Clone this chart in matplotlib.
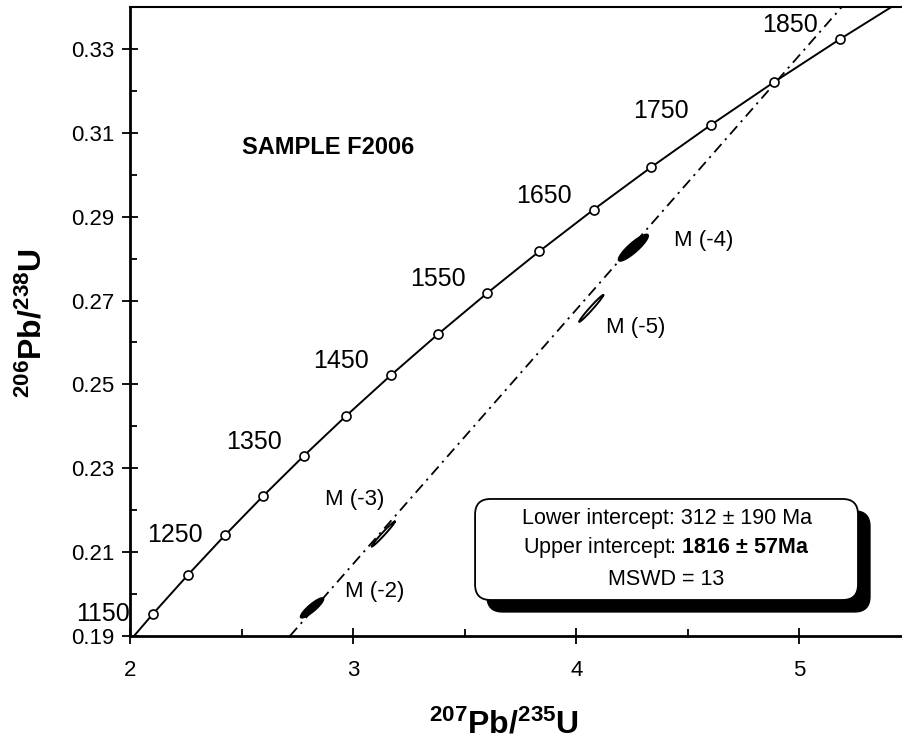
import numpy as np
import matplotlib.pyplot as plt
from matplotlib.patches import FancyBboxPatch

plt.rcParams['font.family'] = ['Liberation Sans', 'DejaVu Sans']
plt.rcParams['mathtext.fontset'] = 'custom'
plt.rcParams['mathtext.rm'] = 'Liberation Sans'
plt.rcParams['mathtext.bf'] = 'Liberation Sans:bold'

# concordia ratios, every 50 Ma (1100 and 1900 only extend the curve)
ages = [1100, 1150, 1200, 1250, 1300, 1350, 1400, 1450, 1500,
        1550, 1600, 1650, 1700, 1750, 1800, 1850, 1900]
pb207_u235 = [1.9545, 2.1036, 2.2603, 2.4249, 2.5977, 2.7793, 2.9701, 3.1705, 3.3810,
              3.6021, 3.8344, 4.0784, 4.3348, 4.6040, 4.8869, 5.1841, 5.4962]
pb206_u238 = [0.18606, 0.19530, 0.20460, 0.21398, 0.22343, 0.23296, 0.24256, 0.25224, 0.26199,
              0.27181, 0.28172, 0.29170, 0.30175, 0.31189, 0.32210, 0.33240, 0.34277]
label_ages = [1150, 1250, 1350, 1450, 1550, 1650, 1750, 1850]

# discordia (dash-dot)
disc_x = [2.717, 5.19]
disc_y = [0.19, 0.34]

# zircon analyses: centre, half-extent, correlation
spot_names = ['M (-2)', 'M (-3)', 'M (-5)', 'M (-4)']
spot_x = [2.816, 3.135, 4.067, 4.256]
spot_sx = [0.052, 0.052, 0.054, 0.067]
spot_y = [0.1967, 0.2143, 0.2681, 0.2826]
spot_sy = [0.0024, 0.0030, 0.0032, 0.0032]
spot_rho = [0.88, 0.985, 0.985, 0.88]
spot_filled = [True, False, False, True]

box_lines = ['Lower intercept: 312 ± 190 Ma',
             r'Upper intercept: $\mathbf{1816}$ $\mathbf{\pm}$ $\mathbf{57Ma}$',
             'MSWD = 13']

fig = plt.figure(figsize=(9.02, 7.42), dpi=100)
ax = fig.add_axes([0.1441, 0.1429, 0.8559, 0.8477])

# concordia curve + 50 Ma markers
ax.plot(pb207_u235, pb206_u238, color='black', lw=1.4, zorder=3)
ax.plot(pb207_u235[1:-1], pb206_u238[1:-1], 'o', ms=6.5, mfc='white',
        mec='black', mew=1.2, zorder=4)

for a in label_ages:
    i = ages.index(a)
    dy = 0 if a < 1300 else 10
    ax.annotate(str(a), (pb207_u235[i], pb206_u238[i]), xytext=(-36, dy),
                textcoords='offset points', ha='center', va='center',
                fontsize=18, annotation_clip=False)

# discordia
ax.plot(disc_x, disc_y, color='black', lw=1.3,
        linestyle=(0, (6, 3, 1.2, 3)), zorder=3)

# error ellipses
t = np.linspace(0, 2 * np.pi, 120)
for cx, sx, cy, sy, r, filled in zip(spot_x, spot_sx, spot_y, spot_sy, spot_rho, spot_filled):
    ex = cx + sx * np.cos(t)
    ey = cy + sy * (r * np.cos(t) + np.sqrt(1 - r ** 2) * np.sin(t))
    if filled:
        ax.fill(ex, ey, color='black', zorder=4)
    else:
        ax.plot(ex, ey, color='black', lw=1.4, zorder=4)

label_off = [(24, 12), (-42, 25), (11, -14), (29, 5)]
for name, cx, cy, off in zip(spot_names, spot_x, spot_y, label_off):
    ax.annotate(name, (cx, cy), xytext=off, textcoords='offset points',
                ha='left', va='center', fontsize=16)

ax.text(0.2565, 0.776, 'SAMPLE F2006', transform=ax.transAxes,
        ha='center', va='center', fontsize=17, fontweight='bold')

# results box with shadow
asp = 772 / 629
shadow = FancyBboxPatch((0.447 + 0.0155, 0.0572 - 0.019), 0.496, 0.1606,
                        boxstyle='round,pad=0,rounding_size=0.02', mutation_aspect=asp,
                        transform=ax.transAxes, fc='black', ec='black', lw=1, zorder=6)
box = FancyBboxPatch((0.447, 0.0572), 0.496, 0.1606,
                     boxstyle='round,pad=0,rounding_size=0.02', mutation_aspect=asp,
                     transform=ax.transAxes, fc='white', ec='black', lw=1.3, zorder=7)
ax.add_patch(shadow)
ax.add_patch(box)
for line, yy in zip(box_lines, [0.186, 0.140, 0.089]):
    ax.text(0.695, yy, line, transform=ax.transAxes, ha='center', va='center',
            fontsize=15.5, zorder=8)

ax.set_xlim(2, 5.46)
ax.set_ylim(0.19, 0.34)
ax.set_xticks([2, 3, 4, 5])
ax.set_xticklabels(['2', '3', '4', '5'])
ax.set_xticks([2.5, 3.5, 4.5], minor=True)
yt = [0.19, 0.21, 0.23, 0.25, 0.27, 0.29, 0.31, 0.33]
ax.set_yticks(yt)
ax.set_yticklabels(['%.2f' % v for v in yt])
ax.set_yticks([0.20, 0.22, 0.24, 0.26, 0.28, 0.30, 0.32], minor=True)
ax.tick_params(which='major', direction='inout', length=12, width=1.3, labelsize=16)
ax.tick_params(axis='x', which='major', pad=11)
ax.tick_params(axis='y', which='major', pad=5)
ax.tick_params(which='minor', direction='in', length=5, width=1.3)

ax.spines['right'].set_visible(False)
ax.spines['left'].set_linewidth(2)
ax.spines['bottom'].set_linewidth(2)
ax.spines['top'].set_linewidth(1.5)

ax.set_xlabel(r'$\mathbf{{}^{207}Pb/{}^{235}U}$', fontsize=23)
ax.xaxis.set_label_coords(0.485, -0.117)
ax.set_ylabel(r'$\mathbf{{}^{206}Pb/{}^{238}U}$', fontsize=23)
ax.yaxis.set_label_coords(-0.105, 0.4976)

fig.savefig('out.png', dpi=100)
